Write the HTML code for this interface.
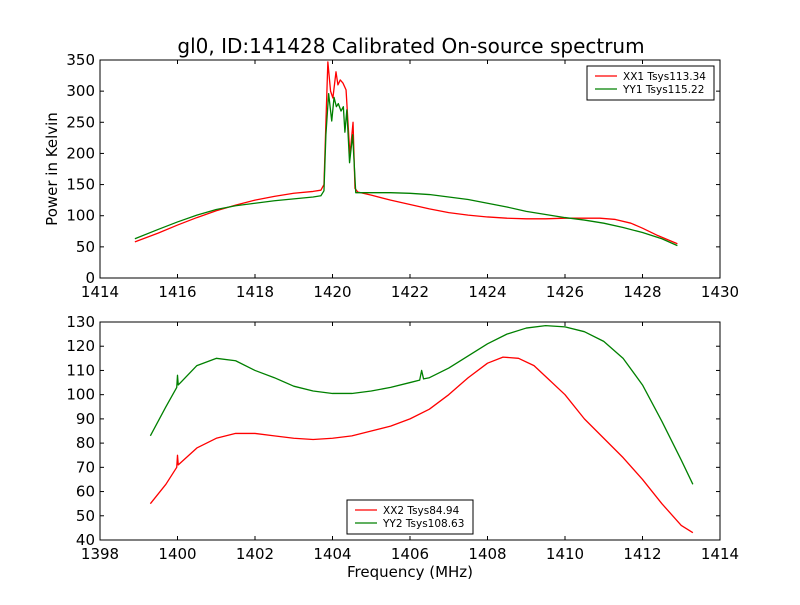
<!DOCTYPE html>
<html><head><meta charset="utf-8"><style>
body{margin:0;background:#fff;}
svg{font-family:"DejaVu Sans","Liberation Sans",sans-serif;}
</style></head><body>
<svg id="c" width="800" height="600" viewBox="0 0 800 600" xmlns="http://www.w3.org/2000/svg">
<rect width="800" height="600" fill="#fff"/>
<text x="411" y="53" font-size="20" text-anchor="middle">gl0, ID:141428 Calibrated On-source spectrum</text>
<text x="57" y="169" font-size="15" text-anchor="middle" transform="rotate(-90 57 169)">Power in Kelvin</text>
<text x="410" y="577" font-size="15" text-anchor="middle">Frequency (MHz)</text>
<g id="top"></g><g id="bot"></g>
</svg>
<script>
// Top panel data
const topFreqRed=[1414.9,1415.5,1416,1416.5,1417,1417.5,1418,1418.5,1419,1419.5,1419.7,1419.78,1419.83,1419.88,1419.95,1420.01,1420.09,1420.14,1420.2,1420.27,1420.35,1420.45,1420.53,1420.58,1420.65,1421,1421.5,1422,1422.5,1423,1423.5,1424,1424.5,1425,1425.5,1426,1426.5,1426.9,1427.3,1427.7,1428,1428.4,1428.9];
const topValRed=[58,72,85,97,108,117,125,131,136,139,141,150,250,347,300,289,331,310,318,313,302,197,250,144,138,133,125,118,111,105,101,98,96,95,95,96,96,96,94,88,80,68,55];
const topFreqGreen=[1414.9,1415.5,1416,1416.5,1417,1417.5,1418,1418.5,1419,1419.5,1419.7,1419.78,1419.83,1419.9,1419.98,1420.04,1420.1,1420.15,1420.22,1420.28,1420.32,1420.37,1420.44,1420.52,1420.6,1421,1421.5,1422,1422.5,1423,1423.5,1424,1424.5,1425,1425.5,1426,1426.5,1427,1427.5,1428,1428.5,1428.9];
const topValGreen=[63,78,90,101,110,116,120,124,127,130,132,140,230,296,252,290,275,280,268,275,234,270,185,230,137,137,137,136,134,130,126,120,114,107,102,97,93,88,81,73,63,52];
// Bottom panel data
const botFreqRed=[1399.3,1399.7,1399.98,1400.0,1400.02,1400.5,1401,1401.5,1402,1402.5,1403,1403.5,1404,1404.5,1405,1405.5,1406,1406.5,1407,1407.5,1408,1408.4,1408.8,1409.2,1409.6,1410,1410.5,1411,1411.5,1412,1412.5,1413,1413.3];
const botValRed=[55,63,70,75,71,78,82,84,84,83,82,81.5,82,83,85,87,90,94,100,107,113,115.5,115,112,106,100,90,82,74,65,55,46,43];
const botFreqGreen=[1399.3,1399.7,1399.98,1400.0,1400.02,1400.5,1401,1401.5,1402,1402.5,1403,1403.5,1404,1404.5,1405,1405.5,1406,1406.25,1406.3,1406.35,1406.5,1407,1407.5,1408,1408.5,1409,1409.5,1410,1410.5,1411,1411.5,1412,1412.5,1413,1413.3];
const botValGreen=[83,95,103,108,104,112,115,114,110,107,103.5,101.5,100.5,100.5,101.5,103,105,106,110,106.5,107,111,116,121,125,127.5,128.5,128,126,122,115,104,89,73,63];
const topXTicks=[1414,1416,1418,1420,1422,1424,1426,1428,1430];
const topYTicks=[0,50,100,150,200,250,300,350];
const botXTicks=[1398,1400,1402,1404,1406,1408,1410,1412,1414];
const botYTicks=[40,50,60,70,80,90,100,110,120,130];

const NS="http://www.w3.org/2000/svg";
function mk(tag,attrs,parent){const e=document.createElementNS(NS,tag);for(const k in attrs)e.setAttribute(k,attrs[k]);parent.appendChild(e);return e;}
function panel(g,x0,x1,y0,y1,xmin,xmax,ymin,ymax,xt,yt,series,leg){
  const sx=v=>x0+(v-xmin)/(xmax-xmin)*(x1-x0);
  const sy=v=>y1-(v-ymin)/(ymax-ymin)*(y1-y0);
  series.forEach(s=>{
    const p=mk('polyline',{points:s.f.map((f,i)=>sx(f).toFixed(2)+','+sy(s.v[i]).toFixed(2)).join(' '),fill:'none',stroke:s.c,'stroke-width':1.3,'stroke-linejoin':'round'},g);
    
    
  });
  const fr=mk('rect',{x:x0,y:y0,width:x1-x0,height:y1-y0,fill:'none',stroke:'#000','stroke-width':1},g);
  
  
  xt.forEach(t=>{const x=sx(t);
    mk('line',{x1:x,x2:x,y1:y1,y2:y1-4,stroke:'#000'},g);mk('line',{x1:x,x2:x,y1:y0,y2:y0+4,stroke:'#000'},g);
    const tx=mk('text',{x:x,y:y1+19,'font-size':15,'text-anchor':'middle'},g);tx.textContent=t;
    
    });
  yt.forEach(t=>{const y=sy(t);
    mk('line',{x1:x0,x2:x0+4,y1:y,y2:y,stroke:'#000'},g);mk('line',{x1:x1,x2:x1-4,y1:y,y2:y,stroke:'#000'},g);
    const tx=mk('text',{x:x0-5,y:y+5,'font-size':15,'text-anchor':'end'},g);tx.textContent=t;
    
    });
  const lg=mk('g',{},g);
  
  
  mk('rect',{x:leg.x,y:leg.y,width:leg.w,height:34,fill:'#fff',stroke:'#000'},lg);
  series.forEach((s,i)=>{const yy=leg.y+10+i*13;
    mk('line',{x1:leg.x+8,x2:leg.x+30,y1:yy,y2:yy,stroke:s.c,'stroke-width':1.3},lg);
    const t=mk('text',{x:leg.x+36,y:yy+4,'font-size':10.5},lg);t.textContent=s.label;
    
    });
}
panel(document.getElementById('top'),100,720,60,278,1414,1430,0,350,topXTicks,topYTicks,
 [{f:topFreqRed,v:topValRed,c:'#ff0000',label:'XX1 Tsys113.34',name:'xx1-line'},{f:topFreqGreen,v:topValGreen,c:'#008000',label:'YY1 Tsys115.22',name:'yy1-line'}],{x:587,y:66,w:127});
panel(document.getElementById('bot'),100,720,322,540,1398,1414,40,130,botXTicks,botYTicks,
 [{f:botFreqRed,v:botValRed,c:'#ff0000',label:'XX2 Tsys84.94',name:'xx2-line'},{f:botFreqGreen,v:botValGreen,c:'#008000',label:'YY2 Tsys108.63',name:'yy2-line'}],{x:347,y:500,w:126});
</script>
</body></html>
